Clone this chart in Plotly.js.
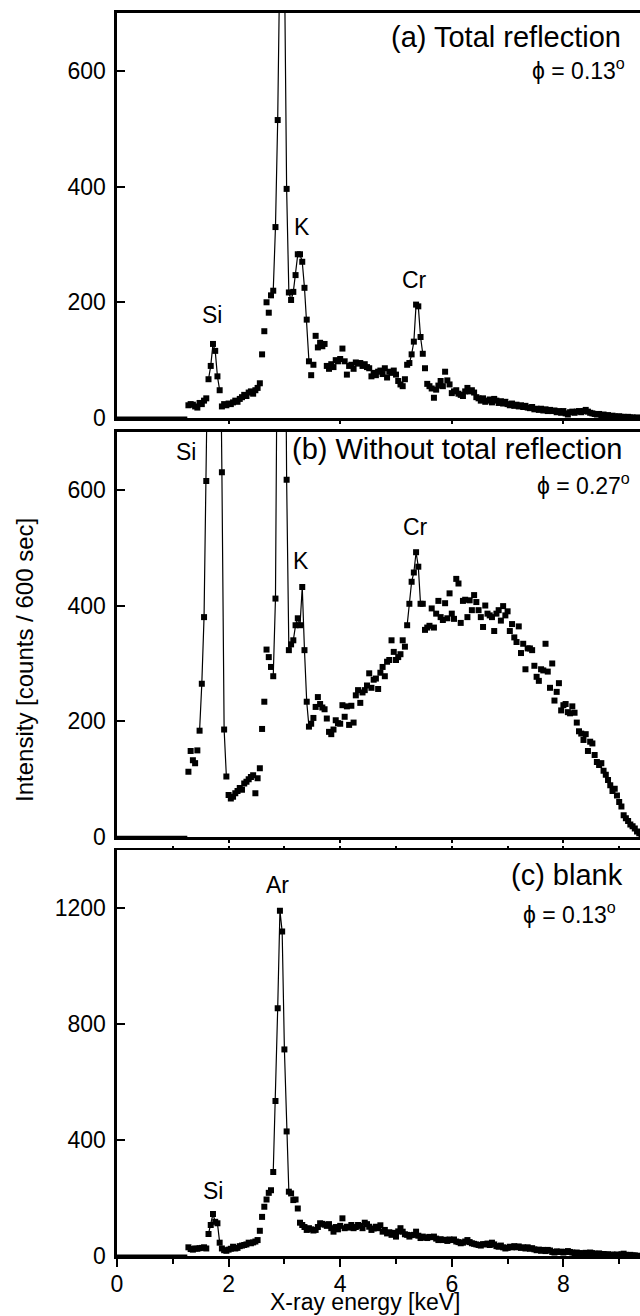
<!DOCTYPE html>
<html><head><meta charset="utf-8">
<script src="https://cdn.plot.ly/plotly-3.0.1.min.js"></script>
<style>html,body{margin:0;padding:0;background:#fff}#chart{width:640px;height:1316px}</style>
</head><body><div id="chart"></div>
<script>
// X-ray energy channels [keV]
const energy = [
1.28,1.32,1.36,1.40,1.44,1.48,1.52,1.56,1.60,1.64,
1.68,1.72,1.76,1.80,1.84,1.88,1.92,1.96,2.00,2.04,
2.08,2.12,2.16,2.20,2.24,2.28,2.32,2.36,2.40,2.44,
2.48,2.52,2.56,2.60,2.64,2.68,2.72,2.76,2.80,2.84,
2.88,2.92,2.96,3.00,3.04,3.08,3.12,3.16,3.20,3.24,
3.28,3.32,3.36,3.40,3.44,3.48,3.52,3.56,3.60,3.64,
3.68,3.72,3.76,3.80,3.84,3.88,3.92,3.96,4.00,4.04,
4.08,4.12,4.16,4.20,4.24,4.28,4.32,4.36,4.40,4.44,
4.48,4.52,4.56,4.60,4.64,4.68,4.72,4.76,4.80,4.84,
4.88,4.92,4.96,5.00,5.04,5.08,5.12,5.16,5.20,5.24,
5.28,5.32,5.36,5.40,5.44,5.48,5.52,5.56,5.60,5.64,
5.68,5.72,5.76,5.80,5.84,5.88,5.92,5.96,6.00,6.04,
6.08,6.12,6.16,6.20,6.24,6.28,6.32,6.36,6.40,6.44,
6.48,6.52,6.56,6.60,6.64,6.68,6.72,6.76,6.80,6.84,
6.88,6.92,6.96,7.00,7.04,7.08,7.12,7.16,7.20,7.24,
7.28,7.32,7.36,7.40,7.44,7.48,7.52,7.56,7.60,7.64,
7.68,7.72,7.76,7.80,7.84,7.88,7.92,7.96,8.00,8.04,
8.08,8.12,8.16,8.20,8.24,8.28,8.32,8.36,8.40,8.44,
8.48,8.52,8.56,8.60,8.64,8.68,8.72,8.76,8.80,8.84,
8.88,8.92,8.96,9.00,9.04,9.08,9.12,9.16,9.20,9.24,
9.28,9.32,9.36,9.40];

// (a) Total reflection, phi = 0.13 deg
const countsA = [
22,24,23,20,18,26,24,30,34,67,
90,128,116,72,48,20,24,22,25,24,
27,30,28,33,36,40,38,44,46,42,
48,52,60,110,150,200,182,212,220,330,
515,950,1100,800,396,217,204,218,247,283,
283,270,225,170,98,74,92,142,122,130,
124,128,90,85,93,88,100,98,102,120,
98,75,90,92,85,96,94,95,90,93,
88,86,72,78,74,80,82,76,86,70,
80,78,82,75,64,58,55,67,92,95,
110,132,196,193,140,111,86,59,55,51,
35,49,56,64,55,80,65,58,43,46,
48,42,40,38,46,52,46,48,44,36,
34,30,34,28,30,32,27,33,30,26,
29,25,28,24,22,25,21,23,20,22,
19,21,18,17,19,15,16,14,16,13,
15,12,14,12,13,10,12,9,12,8,
6,10,11,9,11,12,10,12,14,11,
9,8,7,6,7,5,6,4,5,3,
4,3,2,3,2,2,1,2,1,1,
0,1,0,0];

// (b) Without total reflection, phi = 0.27 deg
const countsB = [
113,149,133,128,150,184,265,380,615,900,
1300,1500,1400,1200,1000,630,186,105,73,67,
70,76,80,85,82,93,96,100,104,107,
76,102,119,187,234,324,311,294,278,412,
1000,1500,1600,1200,617,323,333,340,366,378,
366,432,323,234,191,196,206,225,242,230,
224,221,205,182,178,186,202,197,196,228,
208,226,194,227,198,245,254,232,250,254,
262,283,258,272,274,256,284,294,278,303,
306,340,320,306,311,316,340,329,366,403,
441,457,492,467,403,403,358,362,365,395,
362,386,408,380,375,404,378,421,386,377,
446,438,370,408,410,380,409,392,418,406,
392,380,363,400,386,383,380,356,386,392,
374,399,383,390,356,368,345,337,364,318,
334,290,326,326,323,296,277,270,290,288,
334,286,258,300,236,251,266,219,228,230,
216,214,226,215,198,183,179,168,178,149,
165,162,142,130,125,128,115,108,99,90,
80,84,72,61,53,38,33,28,22,19,
15,10,7,4];

// (c) blank, phi = 0.13 deg
const countsC = [
30,24,22,26,25,27,28,30,26,76,
107,145,118,113,46,26,20,18,22,25,
32,26,28,34,36,38,40,46,44,47,
50,55,87,135,170,195,218,227,290,535,
855,1192,1120,713,430,222,216,193,195,164,
115,107,100,90,96,92,88,90,100,113,
111,108,104,110,96,84,100,92,104,130,
96,101,98,107,96,100,107,104,96,115,
110,101,90,95,101,96,106,84,90,78,
82,73,80,67,85,96,84,75,73,67,
72,73,84,70,62,67,64,62,66,65,
67,60,55,58,55,56,52,57,55,57,
50,48,44,46,50,55,48,44,42,40,
38,36,41,40,43,38,46,40,34,32,
36,30,26,28,32,30,34,30,33,28,
30,26,30,25,27,23,20,22,18,21,
17,21,19,14,12,16,14,15,12,14,
17,14,12,10,12,9,10,8,11,9,
12,10,8,7,9,6,7,5,6,3,
5,4,5,3,6,8,4,3,4,2,
2,1,0,0];

// below-threshold channels (zero counts)
const zeroEnergy = [0, 1.26];
const zeroCounts = [0, 0];

const panelTitles = ['(a) Total reflection', '(b) Without total reflection', '(c) blank'];
const angleLabels = ['\u03D5 = 0.13<sup>o</sup>', '\u03D5 = 0.27<sup>o</sup>', '\u03D5 = 0.13<sup>o</sup>'];
const peakNamesA = ['Si', 'K', 'Cr'];
const peakNamesB = ['Si', 'K', 'Cr'];
const peakNamesC = ['Ar', 'Si'];
const xTickVals = [0, 2, 4, 6, 8];
const xMinorVals = [1, 3, 5, 7, 9];
const yTicksAB = [0, 200, 400, 600];
const yTicksC = [0, 400, 800, 1200];
const xTitle = 'X-ray energy [keV]';
const yTitle = 'Intensity [counts / 600 sec]';

// ---------------- drawing ----------------
const FONT = 'Liberation Sans, Arial, Helvetica, sans-serif';
const XMAX = 9.373;

function segment(counts, lo, hi) {
  const xs = [], ys = [];
  energy.forEach((e, i) => { if (e >= lo && e <= hi) { xs.push(e); ys.push(counts[i]); } });
  return {xs, ys};
}

const traces = [];
function addPanel(counts, xa, ya, ranges, zeroXa) {
  traces.push({x: zeroEnergy, y: zeroCounts, xaxis: zeroXa || xa, yaxis: ya, mode: 'lines',
    line: {color: '#000', width: 3}, hoverinfo: 'skip', showlegend: false});
  ranges.forEach(r => {
    const s = segment(counts, r[0], r[1]);
    traces.push({x: s.xs, y: s.ys, xaxis: xa, yaxis: ya, mode: 'lines',
      line: {color: '#000', width: 1.2}, showlegend: false, hoverinfo: 'skip'});
  });
  traces.push({x: energy, y: counts, xaxis: xa, yaxis: ya, mode: 'markers',
    marker: {symbol: 'square', size: 6, color: '#000', line: {width: 0}}, showlegend: false});
}
addPanel(countsA, 'x3', 'y3', [[1.62, 1.86], [2.78, 3.46], [5.22, 5.50]]);
addPanel(countsB, 'x2', 'y2', [[1.46, 1.98], [2.78, 3.46], [5.18, 5.50]]);
addPanel(countsC, 'x', 'y', [[1.62, 1.86], [2.78, 3.10]], 'x4');

const lineStyle = {showline: true, linecolor: '#000', linewidth: 2.6, showgrid: false, zeroline: false};
const tickFont = {family: FONT, size: 23, color: '#000'};

function yAxis(domain, range, vals, anchor) {
  return Object.assign({}, lineStyle, {domain, range, anchor, tickmode: 'array', tickvals: vals,
    ticks: 'inside', ticklen: 8, tickwidth: 2, tickcolor: '#000', tickfont: tickFont,
    ticklabelstandoff: 4, fixedrange: true});
}
function xInner(anchor) {
  return Object.assign({}, lineStyle, {domain: [0, 1], range: [0, XMAX], anchor, mirror: true,
    tickmode: 'array', tickvals: [2, 4, 6, 8], ticks: 'outside', ticklen: 3, tickwidth: 2,
    tickcolor: '#000', showticklabels: false});
}

function ann(text, x, y, size, xanchor, extra) {
  return Object.assign({text, x, y, xref: 'paper', yref: 'paper', xanchor: xanchor || 'right',
    yanchor: 'middle', showarrow: false, font: {family: FONT, size, color: '#000'}}, extra || {});
}
function peak(text, x, y, xr, yr) {
  return {text, x, y, xref: xr, yref: yr, xanchor: 'center', yanchor: 'middle', showarrow: false,
    font: {family: FONT, size: 23, color: '#000'}};
}

const annotations = [
  ann(panelTitles[0], 0.9683, 0.9719, 29),
  ann(angleLabels[0], 0.9751, 0.9472, 23),
  ann(panelTitles[1], 0.9691, 0.6588, 29),
  ann(angleLabels[1], 0.9847, 0.6322, 23),
  ann(panelTitles[2], 0.9713, 0.3351, 29),
  ann(angleLabels[2], 0.9579, 0.3066, 23),
  peak(peakNamesA[0], 1.71, 178, 'x3', 'y3'),
  peak(peakNamesA[1], 3.315, 330, 'x3', 'y3'),
  peak(peakNamesA[2], 5.33, 239, 'x3', 'y3'),
  peak(peakNamesB[0], 1.245, 665, 'x2', 'y2'),
  peak(peakNamesB[1], 3.29, 476, 'x2', 'y2'),
  peak(peakNamesB[2], 5.35, 536, 'x2', 'y2'),
  peak(peakNamesC[0], 2.885, 1281, 'x', 'y'),
  peak(peakNamesC[1], 1.72, 225, 'x', 'y'),
  ann(yTitle, -0.1759, 0.4985, 24, 'center', {textangle: -90}),
  ann(xTitle, 0.4734, 0.0, 23, 'center', {yanchor: 'bottom', borderpad: 0})
];

const layout = {
  width: 640, height: 1316,
  margin: {l: 117, r: 0, t: 0, b: 0},
  paper_bgcolor: '#fff', plot_bgcolor: '#fff',
  showlegend: false,
  font: {family: FONT, color: '#000'},
  xaxis: Object.assign({}, lineStyle, {domain: [0, 1], range: [0, XMAX], anchor: 'y', mirror: true,
    tickmode: 'array', tickvals: xTickVals, ticks: 'outside', ticklen: 8, tickwidth: 2, tickcolor: '#000',
    tickfont: tickFont, ticklabelstandoff: -2, minor: {tickmode: 'array', tickvals: xMinorVals, ticks: 'outside', ticklen: 5,
    tickwidth: 2, tickcolor: '#000', showgrid: false}}),
  xaxis4: {overlaying: 'x', anchor: 'y', side: 'top', range: [0, XMAX], showline: false, showgrid: false,
    zeroline: false, tickmode: 'array', tickvals: [1, 2, 3, 4, 5, 6, 7, 8, 9], ticks: 'outside',
    ticklen: 3, tickwidth: 2, tickcolor: '#000', showticklabels: false},
  xaxis2: xInner('y2'),
  xaxis3: xInner('y3'),
  yaxis: yAxis([0.04559, 0.35380], [0, 1400], yTicksC, 'x'),
  yaxis2: yAxis([0.36375, 0.67196], [0, 700], yTicksAB, 'x2'),
  yaxis3: yAxis([0.68237, 0.99012], [0, 700], yTicksAB, 'x3'),
  annotations
};

Plotly.newPlot('chart', traces, layout, {staticPlot: true, displayModeBar: false});
</script>
</body></html>
